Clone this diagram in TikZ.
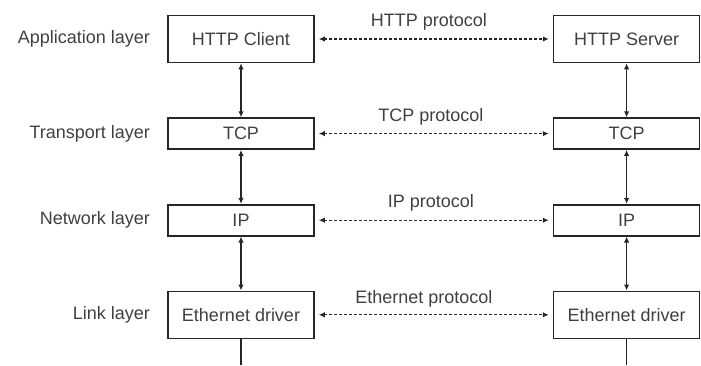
\documentclass[tikz,border=0pt]{standalone}
\usepackage{fontspec}
\setmainfont{Liberation Sans}
\usetikzlibrary{arrows.meta,positioning}

\begin{document}
\begin{tikzpicture}[
    x=1pt, y=1pt,
    node distance=54pt,
    font=\fontsize{18}{20}\selectfont,
    layerbox/.style={draw=black!85, line width=1.6pt, minimum width=146pt, minimum height=31pt, inner sep=2pt, text=black!75},
    tallbox/.style={layerbox, minimum height=47pt},
    lbl/.style={text=black!75, inner sep=0pt},
    arr/.style={{Latex[length=6pt,width=5.5pt]}-{Latex[length=6pt,width=5.5pt]}, line width=1.2pt, black!85},
    proto/.style={arr, dash pattern=on 3pt off 2pt, shorten <=4pt, shorten >=4pt}
]
\useasboundingbox (0,0) rectangle (701,365);

% client stack
\node[tallbox] (lhttp) at (241,326) {HTTP Client};
\node[layerbox, below=of lhttp] (ltcp) {TCP};
\node[layerbox, below=of ltcp] (lip) {IP};
\node[tallbox, below=of lip] (leth) {Ethernet driver};

% server stack
\node[tallbox, right=238pt of lhttp] (rhttp) {HTTP Server};
\node[layerbox, below=of rhttp] (rtcp) {TCP};
\node[layerbox, below=of rtcp] (rip) {IP};
\node[tallbox, below=of rip] (reth) {Ethernet driver};

% layer names
\node[lbl, left=17pt of lhttp] (app) {Application layer};
\node[lbl, left=17pt of ltcp] (trans) {Transport layer};
\node[lbl, left=17pt of lip] (net) {Network layer};
\node[lbl, left=17pt of leth] (link) {Link layer};

\coordinate (lend) at (leth.south |- 0,0);
\coordinate (rend) at (reth.south |- 0,0);

\draw[arr] (lhttp) -- (ltcp);
\draw[arr] (ltcp) -- (lip);
\draw[arr] (lip) -- (leth);
\draw[arr] (rhttp) -- (rtcp);
\draw[arr] (rtcp) -- (rip);
\draw[arr] (rip) -- (reth);
\draw[line width=1.2pt, black!85] (leth) -- (lend);
\draw[line width=1.2pt, black!85] (reth) -- (rend);

\draw[proto] (lhttp) -- node[lbl, above=8pt, xshift=-5pt] (phttp) {HTTP protocol} (rhttp);
\draw[proto] (ltcp) -- node[lbl, above=8pt, xshift=-3pt] (ptcp) {TCP protocol} (rtcp);
\draw[proto] (lip) -- node[lbl, above=8pt, xshift=-3pt] (pip) {IP protocol} (rip);
\draw[proto] (leth) -- node[lbl, above=7pt, xshift=-10pt] (peth) {Ethernet protocol} (reth);
\end{tikzpicture}
\end{document}
